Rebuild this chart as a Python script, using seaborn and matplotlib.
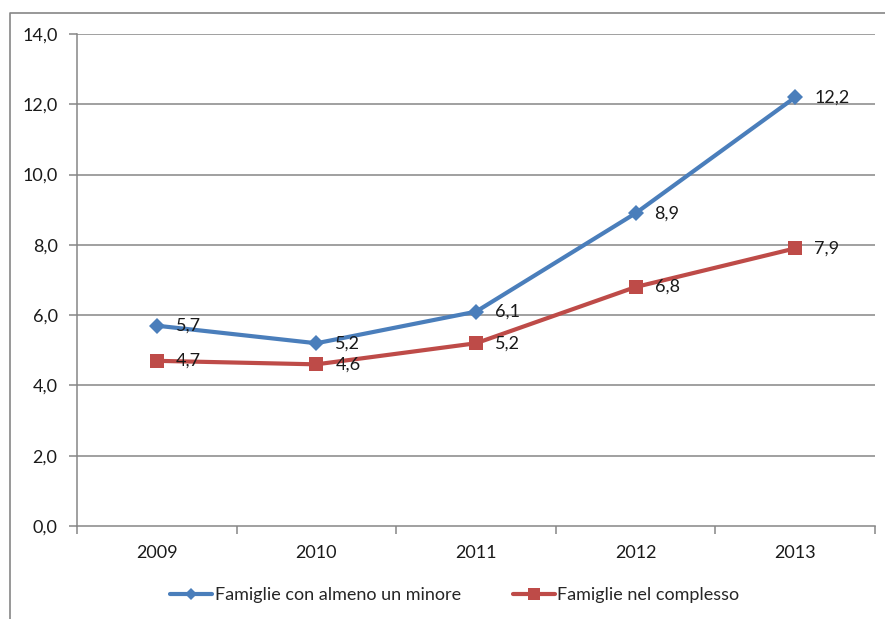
import matplotlib
matplotlib.use("Agg")
import matplotlib.pyplot as plt
from matplotlib.lines import Line2D
import seaborn as sns
import pandas as pd

years = ["2009", "2010", "2011", "2012", "2013"]
con_minore = [5.7, 5.2, 6.1, 8.9, 12.2]
nel_complesso = [4.7, 4.6, 5.2, 6.8, 7.9]
series_names = ["Famiglie con almeno un minore", "Famiglie nel complesso"]
y_ticks = [0, 2, 4, 6, 8, 10, 12, 14]

BLUE = "#4A7EBB"
RED = "#BE4B48"
GRID = "#868686"
TEXT = "#1a1a1a"
FS = 13

sns.set_theme(style="white")
plt.rcParams["font.family"] = ["Lato", "DejaVu Sans"]

df = pd.DataFrame({
    "anno": years * 2,
    "valore": con_minore + nel_complesso,
    "serie": [series_names[0]] * len(years) + [series_names[1]] * len(years),
})

fig = plt.figure(figsize=(8.85, 6.19), dpi=100)
ax = fig.add_axes([77 / 885, 1 - 526 / 619, (875 - 77) / 885, (526 - 34) / 619])

sns.lineplot(data=df, x="anno", y="valore", hue="serie", style="serie",
             palette={series_names[0]: BLUE, series_names[1]: RED},
             markers={series_names[0]: "D", series_names[1]: "s"},
             dashes=False, linewidth=3, markersize=10.5, markeredgewidth=0,
             sort=False, legend=False, ax=ax)
# diamond a bit smaller than the square
for line in ax.get_lines():
    if line.get_marker() == "D":
        line.set_markersize(8.5)

ax.set_xlim(-0.5, len(years) - 0.5)
ax.set_ylim(0, 14)
ax.set_yticks(y_ticks)
ax.set_yticklabels([f"{t:.1f}".replace(".", ",") for t in y_ticks])
ax.set_xticks(range(len(years)))
ax.set_xticklabels(years)
ax.set_xlabel("")
ax.set_ylabel("")

for t in y_ticks[1:]:
    ax.axhline(t, color=GRID, linewidth=1.1, zorder=0)

for side in ["top", "right"]:
    ax.spines[side].set_visible(False)
for side in ["left", "bottom"]:
    ax.spines[side].set_color(GRID)
    ax.spines[side].set_linewidth(1.1)

ax.tick_params(axis="y", which="major", length=6, width=1.1, color=GRID,
               left=True, labelsize=FS, pad=8, labelcolor=TEXT)
ax.tick_params(axis="x", which="major", length=0, labelsize=FS, pad=14,
               labelcolor=TEXT)
# tick marks at category boundaries
ax.set_xticks([i - 0.5 for i in range(len(years) + 1)], minor=True)
ax.tick_params(axis="x", which="minor", length=6, width=1.1, color=GRID,
               bottom=True)

for vals in (con_minore, nel_complesso):
    for i, v in enumerate(vals):
        ax.annotate(f"{v:.1f}".replace(".", ","), (i, v), xytext=(19, 0),
                    textcoords="offset pixels", va="center", ha="left",
                    fontsize=FS, color=TEXT)

handles = [
    Line2D([], [], color=BLUE, linewidth=3, marker="D", markersize=6.5,
           markeredgewidth=0),
    Line2D([], [], color=RED, linewidth=3, marker="s", markersize=8,
           markeredgewidth=0),
]
fig.legend(handles, series_names, loc="center", bbox_to_anchor=(455 / 885, 1 - 595 / 619),
           ncol=2, frameon=False, fontsize=FS, handlelength=2.3,
           handletextpad=0.15, columnspacing=2.9)

# outer chart frame
fig.add_artist(Line2D([10 / 885, 10 / 885, 1.0], [0.0, 1 - 13 / 619, 1 - 13 / 619],
                      transform=fig.transFigure, color=GRID, linewidth=1.2))

fig.savefig("out.png", dpi=100)
